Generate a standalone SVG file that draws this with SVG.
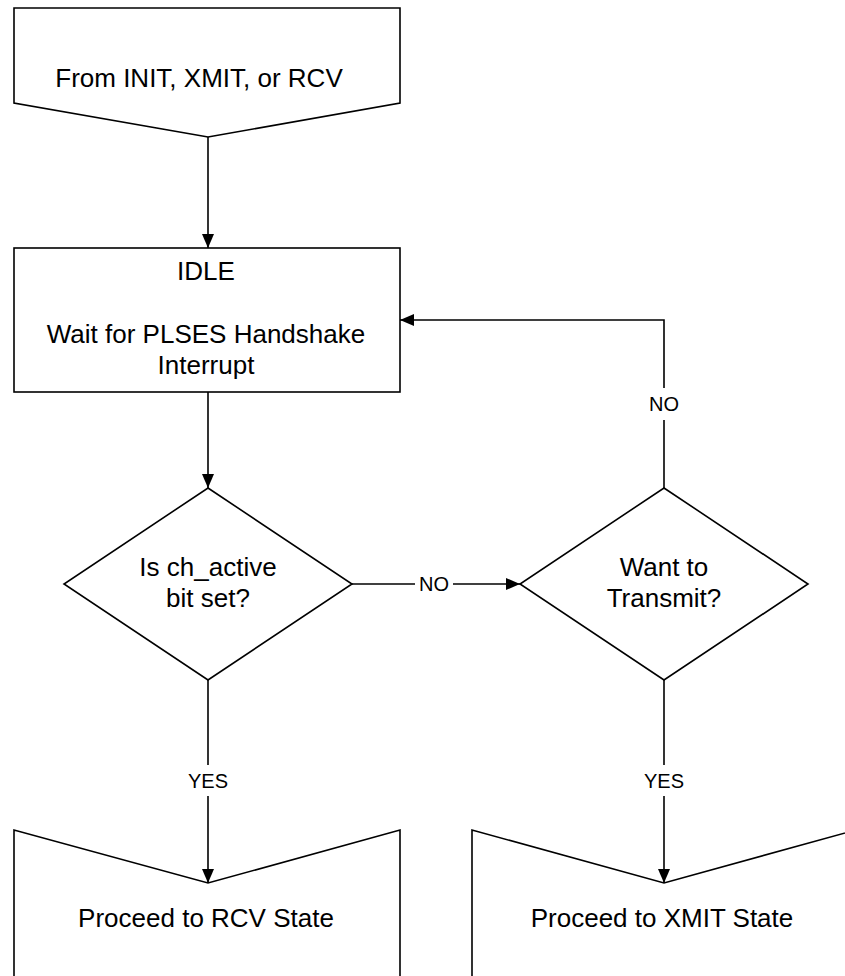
<svg xmlns="http://www.w3.org/2000/svg" width="845" height="976" viewBox="0 0 845 976">
<style>
.s{fill:#fff;stroke:#000;stroke-width:1.6}
.c{fill:none;stroke:#000;stroke-width:1.6}
text{font-family:"Liberation Sans",Arial,sans-serif;fill:#000;text-anchor:middle}
.t{font-size:26px}
.l{font-size:20px}
</style>
<defs>
<marker id="a" viewBox="0 0 14 12" refX="14" refY="6" markerWidth="14" markerHeight="12" markerUnits="userSpaceOnUse" orient="auto">
<path d="M0,0L14,6L0,12z" fill="#000"/>
</marker>
</defs>
<g id="start">
<path class="s" d="M14,8H400V103L208,137L14,103Z"/>
<text class="t" x="199" y="87">From INIT, XMIT, or RCV</text>
</g>
<g id="idle">
<rect class="s" x="14" y="248" width="386" height="144"/>
<text class="t" x="206" y="280">IDLE</text>
<text class="t" x="206" y="343">Wait for PLSES Handshake</text>
<text class="t" x="206" y="374">Interrupt</text>
</g>
<g id="chactive">
<path class="s" d="M208,488L352,584L208,680L64,584Z"/>
<text class="t" x="208" y="576">Is ch_active</text>
<text class="t" x="208" y="607">bit set?</text>
</g>
<g id="transmit">
<path class="s" d="M664,488L808,584L664,680L520,584Z"/>
<text class="t" x="664" y="576">Want to</text>
<text class="t" x="664" y="607">Transmit?</text>
</g>
<g id="rcv">
<path class="s" d="M14,990V830L208,883L400,830V990"/>
<text class="t" x="206" y="927">Proceed to RCV State</text>
</g>
<g id="xmit">
<path class="s" d="M472,990V830L664,883L856,830V990"/>
<text class="t" x="662" y="927">Proceed to XMIT State</text>
</g>
<g id="connectors">
<path class="c" d="M208,137V248" marker-end="url(#a)"/>
<path class="c" d="M208,392V488" marker-end="url(#a)"/>
<path class="c" d="M352,584H415"/>
<path class="c" d="M453,584H520" marker-end="url(#a)"/>
<text class="l" x="434" y="591">NO</text>
<path class="c" d="M664,488V420"/>
<path class="c" d="M664,388V320H400" marker-end="url(#a)"/>
<text class="l" x="664" y="411">NO</text>
<path class="c" d="M208,680V765"/>
<path class="c" d="M208,796V883" marker-end="url(#a)"/>
<text class="l" x="208" y="788">YES</text>
<path class="c" d="M664,680V765"/>
<path class="c" d="M664,796V883" marker-end="url(#a)"/>
<text class="l" x="664" y="788">YES</text>
</g>
</svg>
